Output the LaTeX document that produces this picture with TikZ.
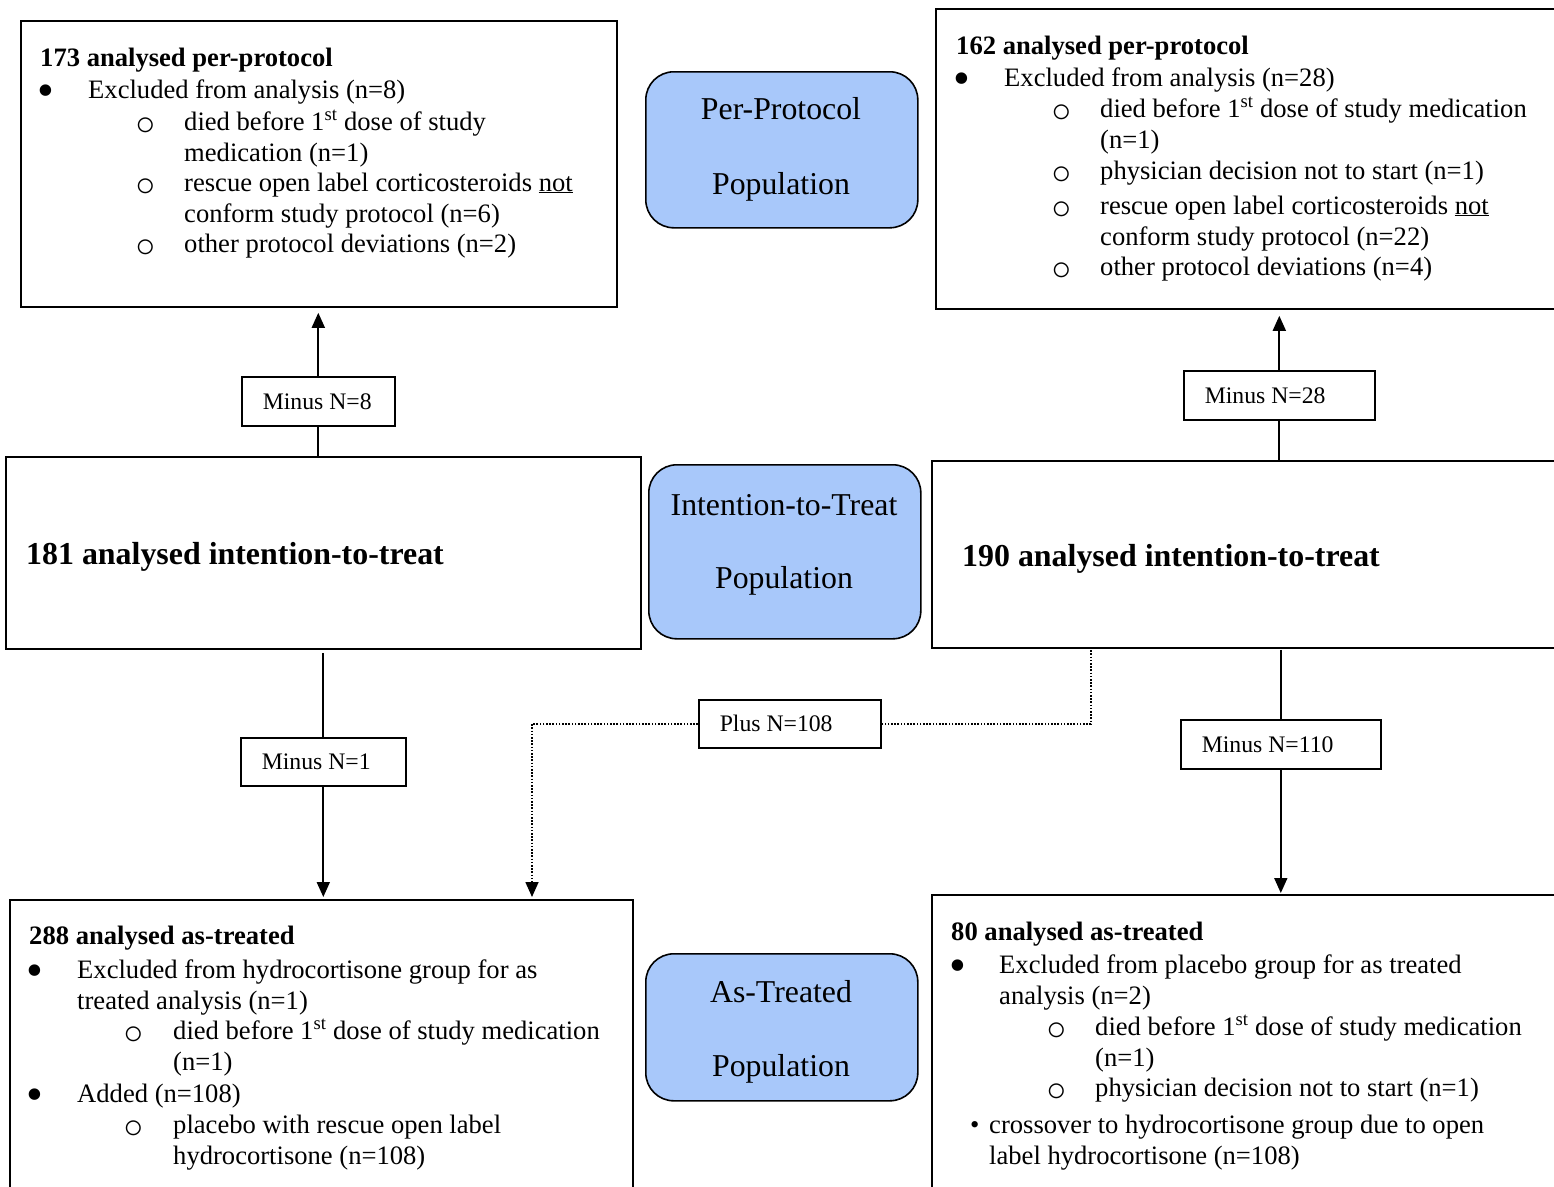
\documentclass[tikz,border=0pt]{standalone}
\usepackage{fontspec}
\setmainfont{Liberation Serif}
\usetikzlibrary{arrows.meta}
\definecolor{popblue}{RGB}{168,200,250}
\newcommand{\labtext}[2]{\makebox[#1][l]{#2}}
\begin{document}
\begin{tikzpicture}[x=1pt,y=-1pt,
 box/.style={draw=black,line width=1.8pt,rectangle,inner sep=0pt,anchor=north west},
 pop/.style={draw=black,line width=1.6pt,fill=popblue,rounded corners=28pt,inner sep=0pt,anchor=north west},
 lab/.style={draw=black,line width=1.6pt,fill=white,anchor=north west,inner xsep=21pt,inner ysep=0pt,font=\fontsize{23.7}{28}\selectfont},
 txt/.style={anchor=base west,inner sep=0pt,font=\fontsize{26.6}{31}\selectfont},
 head/.style={anchor=base west,inner sep=0pt,font=\fontsize{26.6}{31}\selectfont\bfseries},
 big/.style={anchor=base west,inner sep=0pt,font=\fontsize{31.9}{38}\selectfont\bfseries},
 poptxt/.style={anchor=base,inner sep=0pt,font=\fontsize{31.8}{38}\selectfont},
 bul/.style={anchor=base west,inner sep=0pt,font=\fontsize{48}{48}\selectfont},
 sub/.style={anchor=base west,inner sep=0pt,font=\fontsize{34}{34}\selectfont},
 conn/.style={line width=1.8pt},
 arr/.style={line width=1.8pt,-{Triangle[length=15pt,width=13pt]}},
 dotline/.style={line width=1.6pt,dash pattern=on 1.6pt off 1.6pt}
]
\useasboundingbox (0,0) rectangle (1554,1186);
\fill[white] (0,0) rectangle (1554,1186);
\clip (0,0) rectangle (1554,1186);

% ---------- boxes ----------
\node[box,minimum width=596pt,minimum height=286pt] (ppL) at (20,20) {};
\node[box,minimum width=640pt,minimum height=300pt] (ppR) at (935,8) {};
\node[box,minimum width=635pt,minimum height=192pt] (ittL) at (5,456) {};
\node[box,minimum width=640pt,minimum height=187pt] (ittR) at (931,460) {};
\node[box,minimum width=623pt,minimum height=320pt] (atL) at (9,899) {};
\node[box,minimum width=640pt,minimum height=320pt] (atR) at (931,894) {};

\node[pop,minimum width=272pt,minimum height=156pt] (popPP) at (645,71) {};
\node[pop,minimum width=272pt,minimum height=174pt] (popITT) at (648,464) {};
\node[pop,minimum width=272pt,minimum height=147pt] (popAT) at (645,953) {};

\node[poptxt] (popPPa) at (781,119) {Per-Protocol};
\node[poptxt] (popPPb) at (781,194) {Population};
\node[poptxt] (popITTa) at (784,515) {Intention-to-Treat};
\node[poptxt] (popITTb) at (784,588) {Population};
\node[poptxt] (popATa) at (781,1002) {As-Treated};
\node[poptxt] (popATb) at (781,1076) {Population};

% ---------- per-protocol left ----------
\node[head] (a0) at (40,66) {173 analysed per-protocol};
\node[bul] (a1b) at (37,106) {•};
\node[txt] (a1) at (88,98) {Excluded from analysis (n=8)};
\node[sub] (a2b) at (135,135) {○};
\node[txt] (a2) at (184,130) {died before 1\textsuperscript{st} dose of study};
\node[txt] (a3) at (184,161) {medication (n=1)};
\node[sub] (a4b) at (135,196) {○};
\node[txt] (a4) at (184,191) {rescue open label corticosteroids \underline{not}};
\node[txt] (a5) at (184,222) {conform study protocol (n=6)};
\node[sub] (a6b) at (135,257) {○};
\node[txt] (a6) at (184,252) {other protocol deviations (n=2)};

% ---------- per-protocol right ----------
\node[head] (b0) at (956,54) {162 analysed per-protocol};
\node[bul] (b1b) at (953,94) {•};
\node[txt] (b1) at (1004,86) {Excluded from analysis (n=28)};
\node[sub] (b2b) at (1051,122) {○};
\node[txt] (b2) at (1100,117) {died before 1\textsuperscript{st} dose of study medication};
\node[txt] (b3) at (1100,148) {(n=1)};
\node[sub] (b4b) at (1051,184) {○};
\node[txt] (b4) at (1100,179) {physician decision not to start (n=1)};
\node[sub] (b5b) at (1051,219) {○};
\node[txt] (b5) at (1100,214) {rescue open label corticosteroids \underline{not}};
\node[txt] (b6) at (1100,245) {conform study protocol (n=22)};
\node[sub] (b7b) at (1051,280) {○};
\node[txt] (b7) at (1100,275) {other protocol deviations (n=4)};

% ---------- ITT ----------
\node[big] (c0) at (26,564) {181 analysed intention-to-treat};
\node[big] (d0) at (962,566) {190 analysed intention-to-treat};

% ---------- as-treated left ----------
\node[head] (e0) at (29,944) {288 analysed as-treated};
\node[bul] (e1b) at (26,986) {•};
\node[txt] (e1) at (77,978) {Excluded from hydrocortisone group for as};
\node[txt] (e2) at (77,1009) {treated analysis (n=1)};
\node[sub] (e3b) at (123,1044) {○};
\node[txt] (e3) at (173,1039) {died before 1\textsuperscript{st} dose of study medication};
\node[txt] (e4) at (173,1070) {(n=1)};
\node[bul] (e5b) at (26,1110) {•};
\node[txt] (e5) at (77,1102) {Added (n=108)};
\node[sub] (e6b) at (123,1138) {○};
\node[txt] (e6) at (173,1133) {placebo with rescue open label};
\node[txt] (e7) at (173,1164) {hydrocortisone (n=108)};

% ---------- as-treated right ----------
\node[head] (f0) at (951,940) {80 analysed as-treated};
\node[bul] (f1b) at (949,981) {•};
\node[txt] (f1) at (999,973) {Excluded from placebo group for as treated};
\node[txt] (f2) at (999,1004) {analysis (n=2)};
\node[sub] (f3b) at (1046,1040) {○};
\node[txt] (f3) at (1095,1035) {died before 1\textsuperscript{st} dose of study medication};
\node[txt] (f4) at (1095,1066) {(n=1)};
\node[sub] (f5b) at (1046,1101) {○};
\node[txt] (f5) at (1095,1096) {physician decision not to start (n=1)};
\node[txt] (f6b) at (970,1133) {•};
\node[txt] (f6) at (989,1133) {crossover to hydrocortisone group due to open};
\node[txt] (f7) at (989,1164) {label hydrocortisone (n=108)};

% ---------- labels ----------
\node[lab,minimum height=49pt] (lab1) at (241,376) {\labtext{111pt}{Minus N=8}};
\node[lab,minimum height=49pt] (lab2) at (1183,370) {\labtext{149pt}{Minus N=28}};
\node[lab,minimum height=48pt] (lab3) at (240,737) {\labtext{123pt}{Minus N=1}};
\node[lab,minimum height=48pt] (lab4) at (698,699) {\labtext{140pt}{Plus N=108}};
\node[lab,minimum height=49pt] (lab5) at (1180,719) {\labtext{158pt}{Minus N=110}};

% ---------- connectors ----------
\draw[conn] (ittL.north -| lab1.south) -- (lab1.south);
\draw[arr,shorten >=5pt] (lab1.north) -- (lab1.north |- ppL.south);
\draw[conn] (ittR.north -| lab2.south) -- (lab2.south);
\draw[arr,shorten >=6pt] (lab2.north) -- (lab2.north |- ppR.south);
\draw[conn,shorten <=3pt] (ittL.south -| lab3.north) -- (lab3.north);
\draw[arr,shorten >=2pt] (lab3.south) -- (lab3.south |- atL.north);
\draw[conn,shorten <=1pt] (ittR.south -| lab5.north) -- (lab5.north);
\draw[arr,shorten >=1pt] (lab5.south) -- (lab5.south |- atR.north);

\coordinate (dA) at (1091,647);
\coordinate (dB) at (532,899);
\draw[dotline] (dA) |- (lab4.east);
\draw[dotline,-{Triangle[length=15pt,width=13pt]},shorten >=2pt] (lab4.west) -| (dB);
\end{tikzpicture}
\end{document}
